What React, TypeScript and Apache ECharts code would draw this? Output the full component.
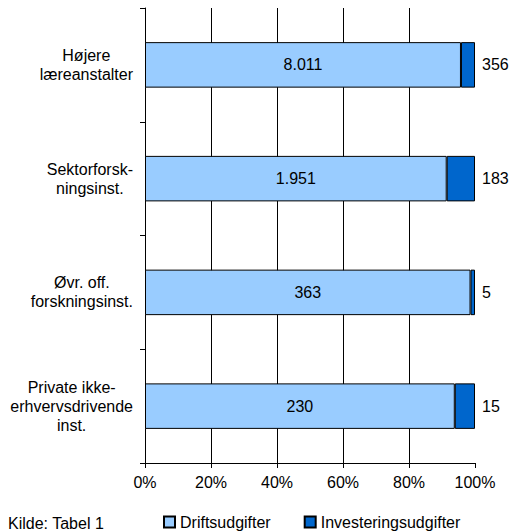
import React, { useEffect, useRef } from "react";
import * as echarts from "echarts";

const categories = [
  "Højere\nlæreanstalter",
  "Sektorforsk-\nningsinst.",
  "Øvr. off.\nforskningsinst.",
  "Private ikke-\nerhvervsdrivende\ninst.",
];
const driftValues = [8011, 1951, 363, 230];
const investValues = [356, 183, 5, 15];
const seriesNames = ["Driftsudgifter", "Investeringsudgifter"];
const xTickLabels = ["0%", "20%", "40%", "60%", "80%", "100%"];
const sourceText = "Kilde: Tabel 1";

const FONT = "'Liberation Sans', Arial, sans-serif";
const FS = 16;

function fmtDK(v: number): string {
  return String(v).replace(/\B(?=(\d{3})+(?!\d))/g, ".");
}

export default function App() {
  const ref = useRef<HTMLDivElement>(null);
  useEffect(() => {
    if (!ref.current) return;
    const chart = echarts.init(ref.current, null, { renderer: "svg" });
    const totals = driftValues.map((d, i) => d + investValues[i]);
    const driftPct = driftValues.map((d, i) => (d / totals[i]) * 100);
    const investPct = investValues.map((d, i) => (d / totals[i]) * 100);
    chart.setOption({
      animation: false,
      backgroundColor: "#ffffff",
      textStyle: { fontFamily: FONT, color: "#000", fontSize: FS },
      grid: { left: 145, right: 37, top: 8, bottom: 68 },
      legend: {
        left: 163,
        top: 514,
        padding: 0,
        itemWidth: 11,
        itemHeight: 11,
        itemGap: 33,
        icon: "rect",
        textStyle: { fontSize: FS, color: "#000", fontFamily: FONT },
        data: seriesNames,
      },
      graphic: [
        {
          type: "text",
          left: 8,
          top: 515,
          style: { text: sourceText, fontSize: FS, fontFamily: FONT, fill: "#000" },
        },
      ],
      xAxis: {
        type: "value",
        min: 0,
        max: 100,
        interval: 20,
        axisLine: { show: true, lineStyle: { color: "#000", width: 1 } },
        axisTick: { show: true, length: 5, lineStyle: { color: "#000" } },
        axisLabel: {
          fontSize: FS,
          color: "#000",
          fontFamily: FONT,
          margin: 11,
          formatter: (v: number) => xTickLabels[Math.round(v / 20)],
        },
        splitLine: { show: true, showMinLine: false, showMaxLine: false, lineStyle: { color: "#000", width: 1 } },
      },
      yAxis: {
        type: "category",
        inverse: true,
        data: categories,
        axisLine: { show: true, lineStyle: { color: "#000", width: 1 } },
        axisTick: { show: true, length: 5, lineStyle: { color: "#000" } },
        axisLabel: {
          margin: 12,
          align: "right",
          fontSize: FS,
          lineHeight: 19,
          fontFamily: FONT,
          color: "#000",
          formatter: (v: string) =>
            v
              .split("\n")
              .map((l) => `{c|${l}}`)
              .join("\n"),
          rich: {
            c: { align: "center", fontSize: FS, lineHeight: 19, fontFamily: FONT, color: "#000" },
          },
        },
      },
      series: [
        {
          name: seriesNames[0],
          type: "bar",
          stack: "total",
          barWidth: "40%",
          data: driftPct,
          itemStyle: { color: "#99CCFF", borderColor: "#000", borderWidth: 1 },
          label: {
            show: true,
            position: "inside",
            fontSize: FS,
            color: "#000",
            fontFamily: FONT,
            formatter: (p: any) => fmtDK(driftValues[p.dataIndex]),
          },
        },
        {
          name: seriesNames[1],
          type: "bar",
          stack: "total",
          barWidth: "40%",
          data: investPct,
          itemStyle: { color: "#0066CC", borderColor: "#000", borderWidth: 1 },
          label: {
            show: true,
            position: "right",
            distance: 7,
            fontSize: FS,
            color: "#000",
            fontFamily: FONT,
            formatter: (p: any) => fmtDK(investValues[p.dataIndex]),
          },
        },
      ],
    });
    return () => chart.dispose();
  }, []);
  return <div ref={ref} style={{ position: "fixed", left: 0, top: 0, width: 512, height: 531 }} />;
}
